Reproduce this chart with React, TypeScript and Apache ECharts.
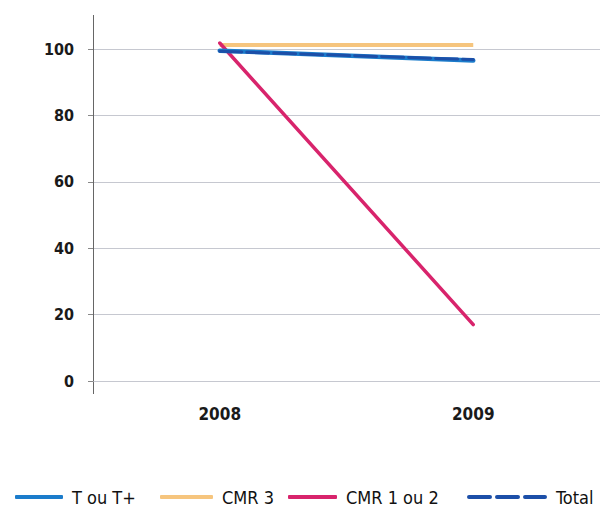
import React, { useEffect, useRef } from "react";
import * as echarts from "echarts";

const categories = ["2008", "2009"];
const tOuTPlus = [99.5, 96.5];
const cmr3 = [101.2, 101.2];
const cmr1ou2 = [101.8, 17];
const total = [99.3, 96.8];
const yTicks = [0, 20, 40, 60, 80, 100];
const seriesNames = ["T ou T+", "CMR 3", "CMR 1 ou 2", "Total"];

const FONT = "DejaVu Sans Condensed";

const legendPos = [
  { left: 15, w: 48 },
  { left: 160, w: 53 },
  { left: 288, w: 49 },
  { left: 467, w: 80 },
];

const dashedIcon =
  "path://M2,0h21a2,2 0 0 1 0,4h-21a2,2 0 0 1 0,-4z M30,0h21a2,2 0 0 1 0,4h-21a2,2 0 0 1 0,-4z M58,0h20a2,2 0 0 1 0,4h-20a2,2 0 0 1 0,-4z";

export default function App() {
  const ref = useRef<HTMLDivElement>(null);
  useEffect(() => {
    const chart = echarts.init(ref.current!, null, { renderer: "svg" });
    chart.setOption({
      animation: false,
      backgroundColor: "#ffffff",
      textStyle: { fontFamily: FONT },
      grid: { left: 93, right: 0, top: 49, bottom: 126 },
      xAxis: {
        type: "category",
        data: categories,
        boundaryGap: true,
        axisLine: { show: false },
        axisTick: { show: false },
        axisLabel: { margin: 24, fontSize: 17, fontWeight: "bold", color: "#1a1a1a", fontFamily: FONT },
      },
      yAxis: {
        type: "value",
        min: yTicks[0],
        max: yTicks[yTicks.length - 1],
        interval: 20,
        axisLine: { show: true, lineStyle: { color: "#666", width: 1 } },
        axisTick: { show: true, length: 5, lineStyle: { color: "#888" } },
        axisLabel: { margin: 19, fontSize: 16, fontWeight: "bold", color: "#1a1a1a", fontFamily: FONT },
        splitLine: { show: true, lineStyle: { color: "#c6c8d0", width: 1.2 } },
      },
      legend: seriesNames.map((name, i) => ({
        top: 488,
        left: legendPos[i].left,
        padding: 0,
        itemWidth: legendPos[i].w,
        itemHeight: 4,
        textStyle: {
          fontSize: 18,
          lineHeight: 18,
          color: "#111",
          fontFamily: FONT,
          padding: [0, 0, 0, 4],
        },
        data: [{ name, icon: i === 3 ? dashedIcon : "roundRect" }],
      })),
      graphic: [
        { type: "line", shape: { x1: 93.5, y1: 15, x2: 93.5, y2: 49 }, style: { stroke: "#666", lineWidth: 1 } },
        { type: "line", shape: { x1: 93.5, y1: 381, x2: 93.5, y2: 394 }, style: { stroke: "#666", lineWidth: 1 } },
      ],
      series: [
        {
          name: seriesNames[1],
          type: "line",
          data: cmr3,
          symbol: "none",
          clip: false,
          itemStyle: { color: "#f6c57e" },
          lineStyle: { color: "#f6c57e", width: 4 },
          z: 2,
        },
        {
          name: seriesNames[2],
          type: "line",
          data: cmr1ou2,
          symbol: "none",
          clip: false,
          itemStyle: { color: "#d8246c" },
          lineStyle: { color: "#d8246c", width: 3.5, cap: "round" },
          z: 3,
        },
        {
          name: seriesNames[0],
          type: "line",
          data: tOuTPlus,
          symbol: "none",
          clip: false,
          itemStyle: { color: "#1b7ccb" },
          lineStyle: { color: "#1b7ccb", width: 4.5, cap: "round" },
          z: 4,
        },
        {
          name: seriesNames[3],
          type: "line",
          data: total,
          symbol: "none",
          clip: false,
          itemStyle: { color: "#1c4fa8" },
          lineStyle: { color: "#1c4fa8", width: 3, type: [22, 5], cap: "round" },
          z: 5,
        },
      ],
    });
    return () => chart.dispose();
  }, []);
  return (
    <div
      ref={ref}
      style={{ position: "absolute", left: 0, top: 0, width: 600, height: 507 }}
    />
  );
}
